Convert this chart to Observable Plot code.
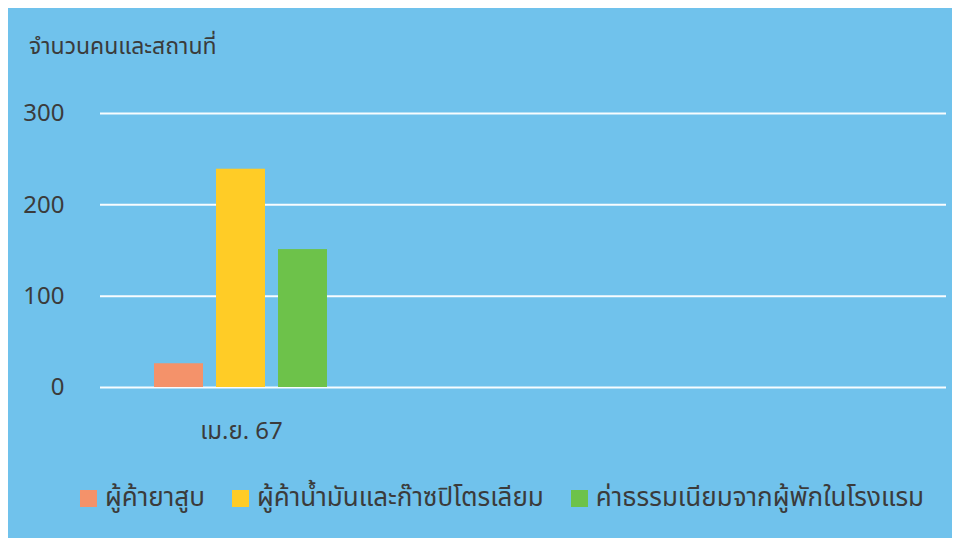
<!DOCTYPE html>
<html><head><meta charset="utf-8">
<script src="https://cdn.jsdelivr.net/npm/d3@7"></script>
<script src="https://cdn.jsdelivr.net/npm/@observablehq/plot@0.6"></script>
<style>
html,body{margin:0;padding:0;background:#fff;width:966px;height:547px;overflow:hidden;}
#panel{position:absolute;left:8px;top:8px;width:944px;height:530px;background:#70c2ec;font-family:"Noto Sans Thai","Tahoma","DejaVu Sans",sans-serif;color:#3b3b3b;}
#title{position:absolute;left:21px;top:22px;font-size:23px;}
#chart{position:absolute;left:0;top:0;}
#legend{position:absolute;left:72px;top:470px;display:flex;align-items:center;font-size:26px;}
.item{display:flex;align-items:center;margin-right:27px;}
.sw{width:17px;height:17px;margin-right:8px;}
</style></head>
<body>
<div id="panel">
  <div id="title"></div>
  <div id="chart"></div>
  <div id="legend"></div>
</div>
<script>
const titleText = "จำนวนคนและสถานที่";
const months = ["เม.ย. 67", " ", "  "];
const monthLabels = ["เม.ย. 67", "", ""];
const series = ["ผู้ค้ายาสูบ", "ผู้ค้าน้ำมันและก๊าซปิโตรเลียม", "ค่าธรรมเนียมจากผู้พักในโรงแรม"];
const values = [26, 239, 151];
const colors = ["#f4926a", "#ffcc26", "#6dc24a"];
const yTicks = [0, 100, 200, 300];

document.getElementById("title").textContent = titleText;

const data = series.map((s, i) => ({month: months[0], series: s, value: values[i]}));
const grid = months.flatMap(m => yTicks.map(t => ({month: m, t})));

const chart = Plot.plot({
  width: 944,
  height: 440,
  marginLeft: 91,
  marginRight: 5,
  marginTop: 105,
  marginBottom: 61,
  style: {background: "transparent", fontFamily: "'Noto Sans Thai', Tahoma, 'DejaVu Sans', sans-serif", fontSize: "24px", color: "#3b3b3b", overflow: "visible"},
  fx: {domain: months, padding: 0, label: null, tickSize: 0, tickPadding: 34, tickFormat: d => monthLabels[months.indexOf(d)], fontSize: 25},
  x: {domain: series, paddingInner: 0.206, paddingOuter: 0.847, axis: null},
  y: {domain: [0, 300], ticks: yTicks, label: null, tickSize: 0, tickPadding: 36},
  color: {domain: series, range: colors},
  marks: [
    Plot.ruleY(grid, {fx: "month", y: "t", stroke: "#ffffff", strokeWidth: 2, strokeOpacity: 0.95}),
    Plot.barY(data, {fx: "month", x: "series", y: "value", fill: "series"})
  ]
});
document.getElementById("chart").appendChild(chart);

const legend = document.getElementById("legend");
series.forEach((s, i) => {
  const it = document.createElement("div"); it.className = "item";
  const sw = document.createElement("div"); sw.className = "sw"; sw.style.background = colors[i];
  const t = document.createElement("span"); t.textContent = s;
  it.appendChild(sw); it.appendChild(t); legend.appendChild(it);
});
</script>
</body></html>
